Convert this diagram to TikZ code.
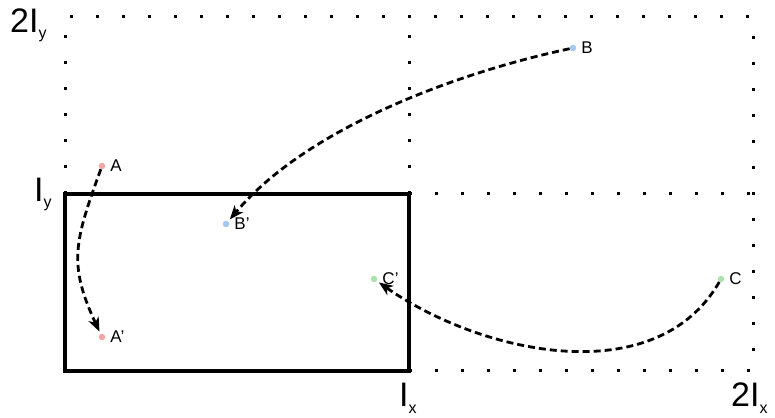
\documentclass[tikz,border=0pt]{standalone}
\usepackage{fontspec}
\setmainfont{Liberation Sans}
\usetikzlibrary{arrows.meta}

\definecolor{ptred}{HTML}{F5A3A3}
\definecolor{ptblue}{HTML}{A6C6F2}
\definecolor{ptgreen}{HTML}{ABE2AB}
\newcommand{\lsub}[1]{\raisebox{-6pt}{\fontsize{16}{16}\selectfont #1}}

\begin{document}
\begin{tikzpicture}[
  x=1pt, y=1pt,
  font=\fontsize{17}{19}\selectfont,
  pt/.style={circle, inner sep=0pt, minimum size=6.5pt, draw=none, fill=#1},
  every label/.style={label distance=1.5pt, font=\fontsize{17}{19}\selectfont},
  grid/.style={line width=3pt, dash pattern=on 3pt off 23pt},
  cell/.style={line width=3.5pt},
  move/.style={-{Stealth[length=14pt,width=11pt,inset=4pt]}, line width=2.8pt,
               dash pattern=on 7pt off 4pt, shorten >=2.5pt},
  axis/.style={anchor=base west, inner sep=0pt, font=\fontsize{34}{34}\selectfont}
]
\useasboundingbox (0,0) rectangle (775,417);

% ---- periodic images (dotted) ----
\draw[grid] (65,223) -- (65,400) -- (753,400) -- (753,46);
\draw[grid] (409,223) -- (409,400);
\draw[grid] (409,223) -- (753,223);
\draw[grid] (409,46) -- (753,46);

% ---- unit cell ----
\draw[cell] (65,46) rectangle (409,223);

% ---- axis labels ----
\node[axis] (lyy) at (10,384) {2I\lsub{y}};
\node[axis] (ly)  at (34,215) {I\lsub{y}};
\node[axis] (lx)  at (399,10) {I\lsub{x}};
\node[axis] (lxx) at (731,10) {2I\lsub{x}};

% ---- particles ----
\node[pt=ptred,   label=right:A]  (A)  at (102,251) {};
\node[pt=ptred,   label=right:A'] (A2) at (102,80)  {};
\node[pt=ptblue,  label=right:B]  (B)  at (573,369) {};
\node[pt=ptblue,  label=right:B'] (B2) at (226,193) {};
\node[pt=ptgreen, label=right:C]  (C)  at (721,138) {};
\node[pt=ptgreen, label=right:C'] (C2) at (374,138) {};

% ---- wrap back into the cell ----
\draw[move] (A) to[out=-110, in=115, looseness=1.2] (A2);
\draw[move] (B) to[out=192, in=50, looseness=0.8] (B2);
\draw[move] (C) to[out=-120, in=-35, looseness=0.95] (C2);

\end{tikzpicture}
\end{document}
